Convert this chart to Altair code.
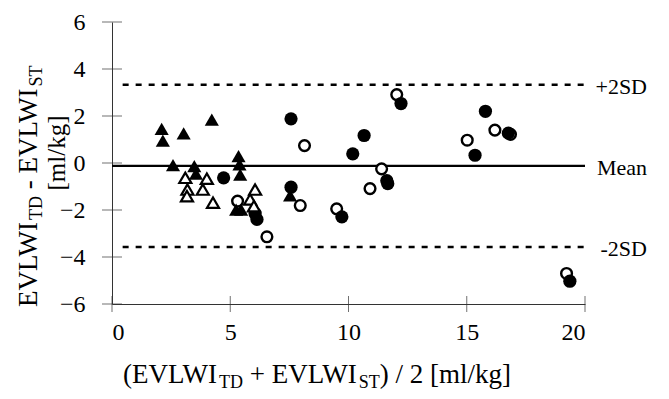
import altair as alt
import pandas as pd

# ---------------- data ----------------
# filled triangles
ft_x = [2.10, 2.15, 3.03, 4.22, 2.58, 3.48, 3.55, 5.35, 5.39, 5.42, 5.25, 5.46, 7.53]
ft_y = [1.45, 0.95, 1.26, 1.85, -0.09, -0.13, -0.45, 0.29, -0.06, -0.49, -1.98, -1.98, -1.38]
# open triangles
ot_x = [3.10, 3.19, 3.17, 4.01, 3.84, 4.27, 6.05, 5.84, 6.00]
ot_y = [-0.63, -1.13, -1.41, -0.67, -1.13, -1.69, -1.13, -1.55, -1.84]
# filled circles
fc_x = [4.72, 6.05, 6.13, 7.57, 7.57, 9.72, 10.18, 10.66, 11.62, 11.66, 12.22, 15.35, 15.79, 16.76, 19.36]
fc_y = [-0.63, -2.15, -2.40, 1.88, -1.03, -2.29, 0.39, 1.17, -0.75, -0.88, 2.53, 0.33, 2.20, 1.27, -5.03]
# open circles
oc_x = [5.31, 6.55, 7.96, 8.14, 9.50, 10.91, 11.40, 12.04, 15.02, 16.19, 16.85, 19.22]
oc_y = [-1.62, -3.14, -1.81, 0.74, -1.95, -1.09, -0.25, 2.91, 0.97, 1.40, 1.22, -4.70]

ref_values = [3.33, -0.12, -3.57]
ref_labels = ["+2SD", "Mean", "-2SD"]
ref_dashed = [True, False, True]

x_ticks = [0, 5, 10, 15, 20]
y_ticks = [-6, -4, -2, 0, 2, 4, 6]

FONT = "Liberation Serif"
W, H = 473, 282

# Times / Liberation Serif advance widths (per 1000 em)
ADV = {' ': 250, '(': 333, ')': 333, '+': 564, '-': 333, '/': 278, '2': 500,
       '[': 333, ']': 333, 'E': 611, 'V': 722, 'L': 611, 'W': 944, 'I': 333,
       'T': 611, 'D': 722, 'S': 556, 'm': 778, 'l': 278, 'k': 500, 'g': 500}


def text_width(s, size):
    return sum(ADV.get(c, 500) for c in s) * size / 1000.0


xs = alt.Scale(domain=[0, 20], nice=False, zero=False)
ys = alt.Scale(domain=[-6, 6], nice=False, zero=False)

X = lambda f="x": alt.X(f"{f}:Q", scale=xs, title=None)
Y = lambda f="y": alt.Y(f"{f}:Q", scale=ys, title=None)

AXIS_STYLE = dict(labelFont=FONT, labelFontSize=24, labelColor="black", ticks=False, grid=False,
                  domainColor="#333", domainWidth=1, format="d")

# axes (labels + domain) carried by the tick layers
xt_df = pd.DataFrame({"x": x_ticks, "y": [-6] * len(x_ticks)})
yt_df = pd.DataFrame({"x": [0] * len(y_ticks), "y": y_ticks})

x_tick_layer = alt.Chart(xt_df).mark_tick(orient="vertical", size=16, thickness=1, color="#333").encode(
    x=alt.X("x:Q", scale=xs, title=None,
            axis=alt.Axis(values=x_ticks, labelPadding=16, **AXIS_STYLE)),
    y=Y(),
)
y_tick_layer = alt.Chart(yt_df).mark_tick(orient="horizontal", size=20, thickness=1, color="#333").encode(
    x=X(),
    y=alt.Y("y:Q", scale=ys, title=None,
            axis=alt.Axis(values=y_ticks, labelPadding=27, **AXIS_STYLE)),
)

# reference lines
ref_df = pd.DataFrame({
    "y": ref_values, "label": ref_labels, "dashed": ref_dashed,
    "x": [0.45 if d else 0.0 for d in ref_dashed], "x2": [20] * 3,
})
solid = alt.Chart(ref_df[~ref_df.dashed]).mark_rule(color="black", strokeWidth=2.2).encode(
    x=X(), x2="x2", y=Y())
dashed = alt.Chart(ref_df[ref_df.dashed]).mark_rule(color="black", strokeWidth=2.5, strokeDash=[6, 7]).encode(
    x=X(), x2="x2", y=Y())
ref_text = alt.Chart(ref_df).mark_text(align="right", baseline="middle", dx=62, dy=2,
                                       font=FONT, fontSize=22, color="black").encode(
    x=alt.X("x2:Q", scale=xs, title=None), y=Y(), text="label:N")

# points
def pts(xv, yv):
    return pd.DataFrame({"x": xv, "y": yv})

open_c = alt.Chart(pts(oc_x, oc_y)).mark_point(shape="circle", filled=True, fill="white", stroke="black",
                                               strokeWidth=2.4, size=115, opacity=1).encode(x=X(), y=Y())
fill_c = alt.Chart(pts(fc_x, fc_y)).mark_point(shape="circle", filled=True, color="black",
                                               size=175, opacity=1).encode(x=X(), y=Y())
fill_t = alt.Chart(pts(ft_x, ft_y)).mark_point(shape="triangle-up", filled=True, color="black",
                                               size=200, opacity=1).encode(x=X(), y=Y())
open_t = alt.Chart(pts(ot_x, ot_y)).mark_point(shape="triangle-up", filled=True, fill="white", stroke="black",
                                               strokeWidth=2.2, size=145, opacity=1).encode(x=X(), y=Y())

# ---------------- titles with subscripts ----------------
F, f = 27, 18
title_layers = []


def add_run(parts, x0, y0, rotated, sub_shift):
    pos = 0.0
    for txt, is_sub in parts:
        size = f if is_sub else F
        lead = len(txt) - len(txt.lstrip(' '))
        body = txt.strip(' ')
        start = pos + text_width(' ' * lead, size)
        if rotated:
            px, py, ang = x0 + (sub_shift if is_sub else 0), y0 - start, 270
        else:
            px, py, ang = x0 + start, y0 + (sub_shift if is_sub else 0), 0
        title_layers.append(
            alt.Chart(pd.DataFrame({"t": [body]})).mark_text(
                align="left", baseline="alphabetic", angle=ang, font=FONT, fontSize=size, color="black"
            ).encode(x=alt.value(px), y=alt.value(py), text="t:N")
        )
        pos += text_width(txt, size)


x_title_parts = [("(EVLWI", False), ("TD", True), (" + EVLWI", False), ("ST", True), (") / 2 [ml/kg]", False)]
y_title_parts = [("EVLWI", False), ("TD", True), (" - EVLWI", False), ("ST", True)]

add_run(x_title_parts, 11, 361, False, 5)
add_run(y_title_parts, -75, 285, True, 5)
title_layers.append(
    alt.Chart(pd.DataFrame({"t": ["[ml/kg]"]})).mark_text(
        align="center", baseline="alphabetic", angle=270, font=FONT, fontSize=25, color="black"
    ).encode(x=alt.value(-47), y=alt.value(131), text="t:N")
)

chart = alt.layer(
    x_tick_layer, y_tick_layer, dashed, solid, ref_text,
    open_c, fill_c, fill_t, open_t, *title_layers
).properties(
    width=W, height=H,
    autosize=alt.AutoSizeParams(type="none"),
    padding={"left": 104, "top": 14, "right": 76, "bottom": 100},
).configure_view(stroke=None).configure_axis(
    labelFont=FONT, labelFontSize=24, labelColor="black"
)

chart.save("out.html", embed_options={"renderer": "svg", "actions": False})
